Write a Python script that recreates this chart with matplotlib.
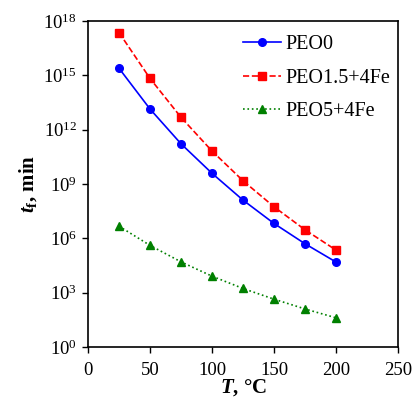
import matplotlib
matplotlib.use("Agg")
import matplotlib.pyplot as plt
from matplotlib.ticker import FixedLocator, FuncFormatter
import numpy as np

plt.rcParams['font.family'] = ['Liberation Serif', 'DejaVu Serif']
plt.rcParams['mathtext.fontset'] = 'custom'
plt.rcParams['mathtext.rm'] = 'Liberation Serif'
plt.rcParams['mathtext.it'] = 'Liberation Serif:italic'
plt.rcParams['mathtext.bf'] = 'Liberation Serif:bold'
plt.rcParams['mathtext.bfit'] = 'Liberation Serif:italic:bold'

temps = [25, 50, 75, 100, 125, 150, 175, 200]
log_peo0 = [15.39, 13.14, 11.22, 9.59, 8.11, 6.82, 5.70, 4.69]
log_peo15 = [17.36, 14.83, 12.68, 10.82, 9.18, 7.74, 6.47, 5.35]
log_peo5 = [6.67, 5.61, 4.70, 3.91, 3.23, 2.64, 2.10, 1.61]

peo0 = [10 ** v for v in log_peo0]
peo15 = [10 ** v for v in log_peo15]
peo5 = [10 ** v for v in log_peo5]

fig = plt.figure(figsize=(4.14, 4.12), dpi=100)
ax = fig.add_axes([0.2126, 0.1578, 0.7488, 0.7912])

ax.plot(temps, peo0, color='#0000FF', linestyle='-', marker='o', markersize=5.5, linewidth=1.2, label='PEO0')
ax.plot(temps, peo15, color='#FF0000', linestyle='--', marker='s', markersize=5.5, linewidth=1.2, label='PEO1.5+4Fe')
ax.plot(temps, peo5, color='#008000', linestyle=':', marker='^', markersize=5.5, linewidth=1.2, label='PEO5+4Fe')

ax.set_yscale('log')
ax.set_ylim(1, 1e18)
ax.set_xlim(0, 250)
ax.set_xticks([0, 50, 100, 150, 200, 250])
ax.yaxis.set_major_locator(FixedLocator([10.0 ** k for k in range(0, 19, 3)]))
ax.yaxis.set_minor_locator(FixedLocator([]))
ax.yaxis.set_major_formatter(FuncFormatter(lambda v, p: r'$10^{%d}$' % round(np.log10(v))))

ax.tick_params(direction='out', length=4.5, width=1, labelsize=13.5)
ax.tick_params(axis='x', pad=6)
for s in ax.spines.values():
    s.set_linewidth(1.2)

ax.set_xlabel(r'$\mathbfit{T}$, °C', fontsize=15, fontweight='bold', labelpad=-1)
ax.set_ylabel(r'$\mathbfit{t}_\mathbf{f}$, min', fontsize=15, fontweight='bold', labelpad=3)

ax.legend(loc='upper right', bbox_to_anchor=(1.0, 0.982), frameon=False, fontsize=14.5,
          handlelength=1.9, borderaxespad=0.0, labelspacing=0.72, handletextpad=0.2)

fig.savefig('out.png', dpi=100)
